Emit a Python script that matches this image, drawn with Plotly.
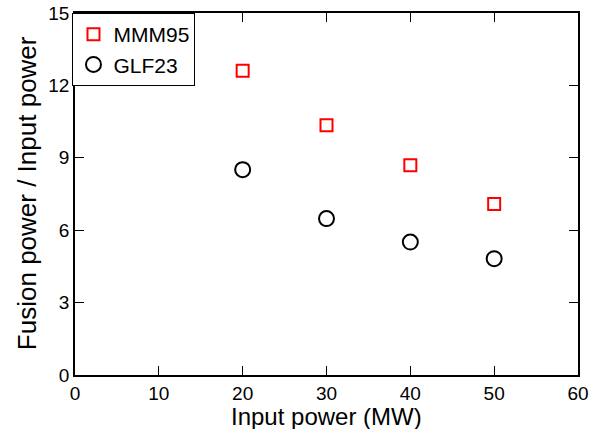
import plotly.graph_objects as go

input_power = [20, 30, 40, 50]
mmm95 = [12.61, 10.35, 8.69, 7.09]
glf23 = [8.51, 6.48, 5.51, 4.82]

x_ticks = [0, 10, 20, 30, 40, 50, 60]
y_ticks = [0, 3, 6, 9, 12, 15]

FONT = "Liberation Sans, Arial, Helvetica, sans-serif"

fig = go.Figure()
fig.add_trace(go.Scatter(
    x=input_power, y=mmm95, mode="markers", name="MMM95",
    marker=dict(symbol="square-open", size=12, color="#ff0000", line=dict(width=2, color="#ff0000")),
))
fig.add_trace(go.Scatter(
    x=input_power, y=glf23, mode="markers", name="GLF23",
    marker=dict(symbol="circle-open", size=15, color="black", line=dict(width=2, color="black")),
))

axis_common = dict(
    showline=True, linecolor="black", linewidth=1.5, mirror="allticks",
    ticks="inside", ticklen=9, tickwidth=1.2, tickcolor="black",
    showgrid=False, zeroline=False, automargin=False,
    tickfont=dict(family=FONT, size=19, color="black"),
)

fig.update_layout(
    width=594, height=429,
    margin=dict(l=75, r=16, t=13, b=54),
    paper_bgcolor="white", plot_bgcolor="white",
    font=dict(family=FONT, color="black"),
    xaxis=dict(range=[0, 60], tickvals=x_ticks, ticktext=[str(v) for v in x_ticks],
               **axis_common),
    yaxis=dict(range=[0, 15], tickvals=y_ticks, ticktext=[str(v) for v in y_ticks],
               **axis_common),
    legend=dict(x=-0.005, y=1, xanchor="left", yanchor="top",
                bordercolor="black", borderwidth=1, bgcolor="white",
                font=dict(family=FONT, size=21), tracegroupgap=0,
                itemwidth=30),
    showlegend=True,
    annotations=[
        dict(text="Input power (MW)", xref="paper", yref="paper", x=0.5, y=-0.115,
             xanchor="center", yanchor="middle", showarrow=False,
             font=dict(family=FONT, size=24, color="black")),
        dict(text="Fusion power / Input power", xref="paper", yref="paper", x=-0.095, y=0.503,
             xanchor="center", yanchor="middle", showarrow=False, textangle=-90,
             font=dict(family=FONT, size=26, color="black")),
    ],
)

fig.write_html("out.html", config={"displayModeBar": False},
               post_script="document.body.style.margin='0';document.body.style.padding='0';")
